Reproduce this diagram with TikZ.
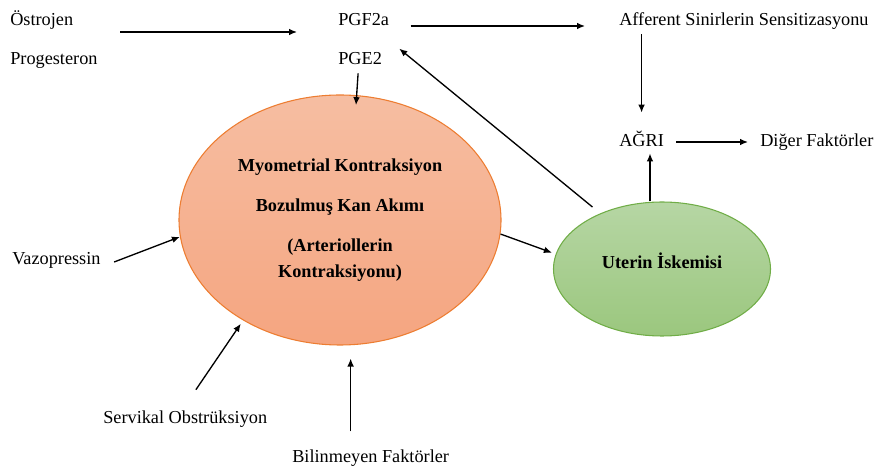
\documentclass[tikz,border=0pt]{standalone}
\usepackage{fontspec}
\setmainfont{Liberation Serif}
\usetikzlibrary{arrows.meta,shapes.geometric}

\definecolor{turuncuUst}{RGB}{246,190,162}
\definecolor{turuncuAlt}{RGB}{245,165,128}
\definecolor{turuncuKenar}{RGB}{237,125,49}
\definecolor{yesilUst}{RGB}{182,214,164}
\definecolor{yesilAlt}{RGB}{155,199,126}
\definecolor{yesilKenar}{RGB}{112,173,71}

\begin{document}
\begin{tikzpicture}[x=0.75pt, y=-0.75pt, >={Latex[length=6pt,width=5pt]},
	yazi/.style={inner sep=0pt, anchor=base west, font=\fontsize{13.7}{16.4}\selectfont},
	ok/.style={->, line width=1pt},
	turuncu/.style={ellipse, shade, top color=turuncuUst, bottom color=turuncuAlt, draw=turuncuKenar, line width=0.8pt,
		minimum width=241.5pt, minimum height=187.5pt, inner sep=0pt, align=center,
		font=\bfseries\fontsize{13.7}{19.5}\selectfont},
	yesil/.style={ellipse, shade, top color=yesilUst, bottom color=yesilAlt, draw=yesilKenar, line width=0.8pt,
		minimum width=162.75pt, minimum height=100.5pt, inner sep=0pt, text height=8pt, text depth=8pt,
		font=\bfseries\fontsize{13.7}{16.4}\selectfont}]
	
	\useasboundingbox (0,0) rectangle (875,473);
	
	% Elipsler
	\node[turuncu] (kontraksiyon) at (340,220) {Myometrial Kontraksiyon\\[10.5pt] Bozulmuş Kan Akımı\\[10.5pt] (Arteriollerin\\ Kontraksiyonu)};
	\node[yesil] (iskemi) at (662,269) {Uterin İskemisi};
	
	% Yazilar
	\node[yazi] (ostrojen) at (10,26) {Östrojen};
	\node[yazi] (progesteron) at (10,65) {Progesteron};
	\node[yazi] (pgf) at (338,26) {PGF2a};
	\node[yazi] (pge) at (338,65) {PGE2};
	\node[yazi] (afferent) at (619,26) {Afferent Sinirlerin Sensitizasyonu};
	\node[yazi] (agri) at (619,147) {AĞRI};
	\node[yazi] (diger) at (760,147) {Diğer Faktörler};
	\node[yazi] (vazo) at (12,265) {Vazopressin};
	\node[yazi] (servikal) at (103,424) {Servikal Obstrüksiyon};
	\node[yazi] (bilinmeyen) at (292,463) {Bilinmeyen Faktörler};
	
	% Hormonlar -> Prostaglandinler
	\coordinate (hormon) at (120,32);
	\coordinate (pgler) at (297,32);
	\draw[ok] (hormon) -- (pgler);
	
	% Ust satir ve agri
	\draw[ok] ([xshift=16pt]pgf.base east) -- ([xshift=-25.5pt]afferent.base west);
	\draw[ok] ([yshift=-3pt]agri.north |- afferent.south) -- ([yshift=14pt]agri.north);
	\draw[ok] ([xshift=9pt,yshift=3.75pt]agri.base east) -- ([xshift=-9pt,yshift=3.75pt]diger.base west);
	
	% Iskemiden cikanlar
	\draw[ok] ([xshift=-9pt]iskemi.north) -- ([xshift=-9pt,yshift=-4.5pt]iskemi.north |- agri.south);
	\draw[ok, shorten <=7.5pt] (iskemi.138) -- ([xshift=7.5pt,yshift=-17pt]pgf.base east);
	
	% Kontraksiyona gelenler
	\draw[ok] ([xshift=-1.5pt,yshift=-6pt]pge.south) -- ([xshift=12pt,yshift=-8pt]kontraksiyon.north);
	\draw[ok] ([xshift=10pt,yshift=2.25pt]vazo.base east) -- (kontraksiyon.186);
	\draw[ok, shorten >=3pt] ([xshift=8pt,yshift=16pt]servikal.north) -- (kontraksiyon.226);
	\draw[ok] ([xshift=-15pt,yshift=14pt]bilinmeyen.north) -- ([xshift=-15pt,yshift=-9.75pt]bilinmeyen.north |- kontraksiyon.south);
	
	% Kontraksiyon -> Iskemi
	\draw[ok, shorten >=3pt] (kontraksiyon.355) -- (iskemi.172);
	
\end{tikzpicture}
\end{document}
